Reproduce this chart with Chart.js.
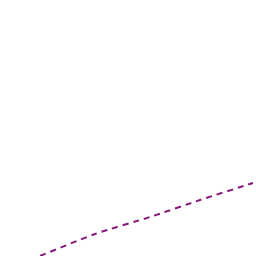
<!DOCTYPE html>
<html>
<head>
<meta charset="utf-8">
<script src="https://cdn.jsdelivr.net/npm/chart.js@4"></script>
<style>
  html, body { margin: 0; padding: 0; background: #fff; overflow: hidden; }
</style>
</head>
<body>
<canvas id="chart" width="256" height="256"></canvas>
<script>
const xValues = [30, 95, 150, 200, 253];
const yValues = [-4, 22, 39, 56, 73];

const points = xValues.map((x, i) => ({ x: x, y: yValues[i] }));

new Chart(document.getElementById('chart'), {
    type: 'scatter',
    data: {
        datasets: [{
            data: points,
            showLine: true,
            borderColor: '#85177b',
            borderWidth: 2,
            borderDash: [6, 5],
            pointRadius: 0,
            tension: 0.2,
            fill: false
        }]
    },
    options: {
        responsive: false,
        animation: false,
        maintainAspectRatio: false,
        layout: { padding: 0 },
        plugins: {
            legend: { display: false },
            tooltip: { enabled: false }
        },
        scales: {
            x: { type: 'linear', display: false, min: 0, max: 256 },
            y: { type: 'linear', display: false, min: 0, max: 256 }
        }
    }
});
</script>
</body>
</html>
